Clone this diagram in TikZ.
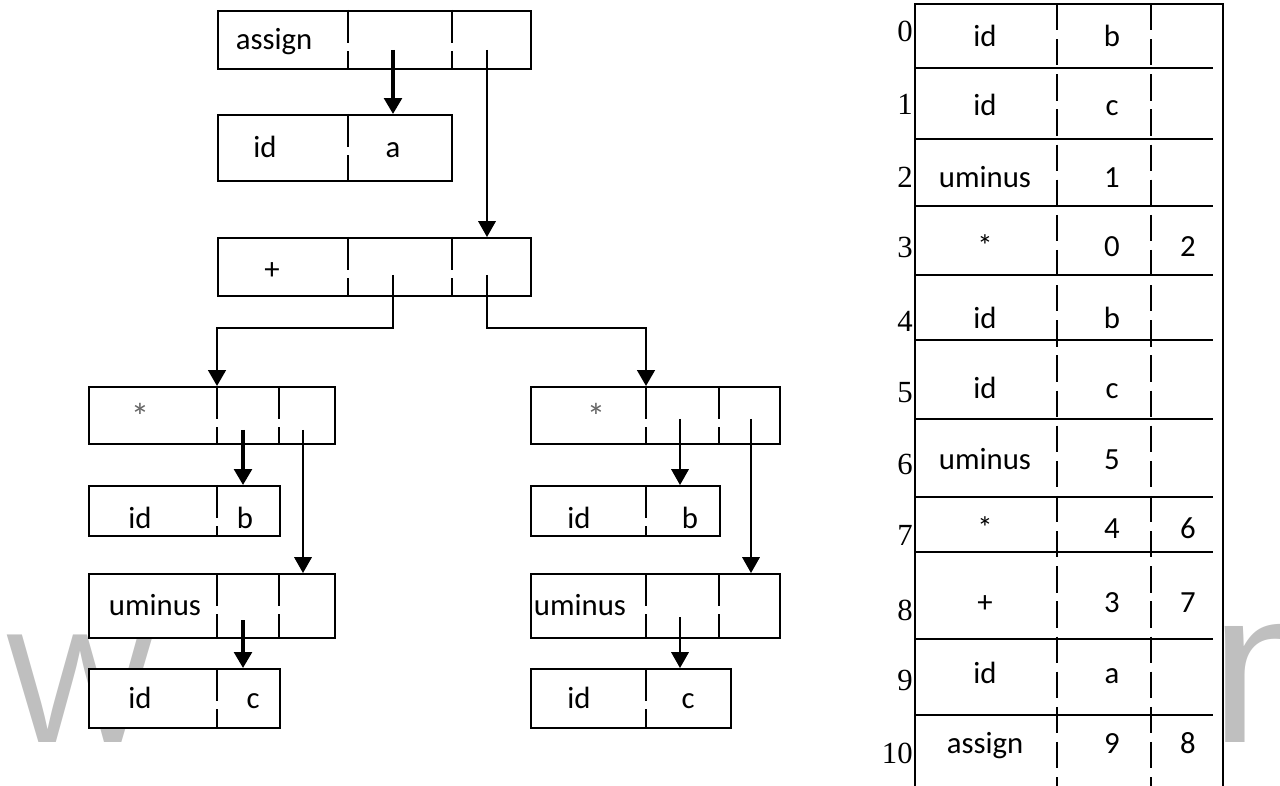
\documentclass[tikz,border=0pt]{standalone}
\usepackage{fontspec}
\setmainfont{Carlito}
\newfontfamily\numfont{Liberation Serif}
\newfontfamily\markfont{Liberation Sans}
\usetikzlibrary{arrows.meta,positioning,calc}

\begin{document}
\begin{tikzpicture}[x=0.02cm, y=-0.02cm,
    rec/.style 2 args={draw, fill=white, line width=0.9pt, inner sep=0pt, anchor=north west,
        minimum width=#1*0.02cm, minimum height=#2*0.02cm},
    divider/.style={line width=0.9pt, dash pattern=on 19pt off 4.5pt},
    tabline/.style={line width=0.9pt},
    tabdiv/.style={line width=0.9pt, dash pattern=on 15pt off 5pt},
    lbl/.style={font=\fontsize{17.5}{20}\selectfont, inner sep=0pt, anchor=base},
    star/.style={lbl, text=black!60, font=\fontsize{21}{22}\selectfont},
    num/.style={font=\numfont\fontsize{17.5}{20}\selectfont, inner sep=0pt, anchor=base east},
    arr/.style={-{Triangle[length=9pt, width=10pt]}, line width=0.8pt},
    thickarr/.style={arr, line width=1.9pt},
    wmark/.style={text=black!25, inner sep=0pt, anchor=base west},
]
\useasboundingbox (0,0) rectangle (1280,786);
\clip (0,0) rectangle (1280,786);

% faint letters in the background
\node[wmark, font=\markfont\fontsize{89}{89}\selectfont] (wmW) at (6,742) {W};
\node[wmark, font=\markfont\fontsize{125}{125}\selectfont] (wmN) at (1210,742) {n};

% records of the syntax tree
\node[rec={313}{58}] (assign) at (217,10) {};
\node[rec={234}{66}] (ida) at (217,114) {};
\node[rec={313}{58}] (plus) at (217,237) {};
\node[rec={246}{57}] (mulL) at (88,386) {};
\node[rec={191}{50}] (idbL) at (88,485) {};
\node[rec={246}{64}] (umL) at (88,573) {};
\node[rec={191}{59}] (idcL) at (88,668) {};
\node[rec={249}{57}] (mulR) at (530,386) {};
\node[rec={189}{50}] (idbR) at (530,485) {};
\node[rec={249}{64}] (umR) at (530,573) {};
\node[rec={200}{59}] (idcR) at (530,668) {};

% field separators
\foreach \x/\t/\b in {348/10/68, 452/10/68, 348/114/180, 348/237/295, 452/237/295,
    217/386/443, 279/386/443, 217/485/535, 217/573/637, 279/573/637, 217/668/727,
    646/386/443, 719/386/443, 646/485/535, 646/573/637, 719/573/637, 646/668/727}
    \draw[divider] (\x,\t) -- (\x,\b);

% field contents
\node[lbl] (assign-t) at (274,50) {assign};
\node[lbl] (ida-t1) at (265,158) {id};
\node[lbl] (ida-t2) at (393,158) {a};
\node[lbl] (plus-t) at (272,280) {+};
\node[star] (mulL-t) at (140,430) {*};
\node[lbl] (idbL-t1) at (140,528) {id};
\node[lbl] (idbL-t2) at (245,528) {b};
\node[lbl] (umL-t) at (155,615) {uminus};
\node[lbl] (idcL-t1) at (140,708) {id};
\node[lbl] (idcL-t2) at (253,708) {c};
\node[star] (mulR-t) at (596,430) {*};
\node[lbl] (idbR-t1) at (579,528) {id};
\node[lbl] (idbR-t2) at (690,528) {b};
\node[lbl] (umR-t) at (580,615) {uminus};
\node[lbl] (idcR-t1) at (579,708) {id};
\node[lbl] (idcR-t2) at (688,708) {c};

% pointer starts
\coordinate (assign-p1) at (393,50);
\coordinate (assign-p2) at (487,50);
\coordinate (plus-p1) at (393,275);
\coordinate (plus-p2) at (487,275);
\coordinate (bendL) at (217,328);
\coordinate (bendR) at (646,328);
\coordinate (mulL-p1) at (243,430);
\coordinate (mulL-p2) at (303,430);
\coordinate (umL-p1) at (243,620);
\coordinate (mulR-p1) at (680,419);
\coordinate (mulR-p2) at (751,419);
\coordinate (umR-p1) at (680,617);

% pointers
\draw[thickarr] (assign-p1) -- (assign-p1 |- ida.north);
\draw[arr] (assign-p2) -- (assign-p2 |- plus.north);
\draw[thickarr, line width=1.3pt] (plus-p1) |- (bendL) -- (bendL |- mulL.north);
\draw[thickarr, line width=1.3pt] (plus-p2) |- (bendR) -- (bendR |- mulR.north);
\draw[thickarr] (mulL-p1) -- (mulL-p1 |- idbL.north);
\draw[arr] (mulL-p2) -- (mulL-p2 |- umL.north);
\draw[thickarr] (umL-p1) -- (umL-p1 |- idcL.north);
\draw[arr] (mulR-p1) -- (mulR-p1 |- idbR.north);
\draw[arr] (mulR-p2) -- (mulR-p2 |- umR.north);
\draw[arr] (umR-p1) -- (umR-p1 |- idcR.north);

% quadruple table
\draw[tabline] (915,786) -- (915,4) -- (1223,4) -- (1223,786);
\foreach \y in {68,139,206,275,340,419,497,552,639,715}
    \draw[tabline] (915,\y) -- (1213,\y);
\draw[tabdiv] (1057,4) -- (1057,786);
\draw[tabdiv] (1151,4) -- (1151,786);

\foreach \r/\nb/\tb/\a/\b/\c in {0/42/47/id/b/, 1/115/116/id/c/, 2/188/188/uminus/1/,
    3/258/257/*/0/2, 4/332/329/id/b/, 5/403/399/id/c/, 6/475/470/uminus/5/,
    7/545/539/*/4/6, 8/620/612/+/3/7, 9/690/683/id/a/, 10/763/753/assign/9/8}
{
    \node[num] (row-\r) at (913,\nb) {\r};
    \node[lbl] (cell-\r-a) at (985,\tb) {\a};
    \node[lbl] (cell-\r-b) at (1112,\tb) {\b};
    \node[lbl] (cell-\r-c) at (1188,\tb) {\c};
}
\end{tikzpicture}
\end{document}
